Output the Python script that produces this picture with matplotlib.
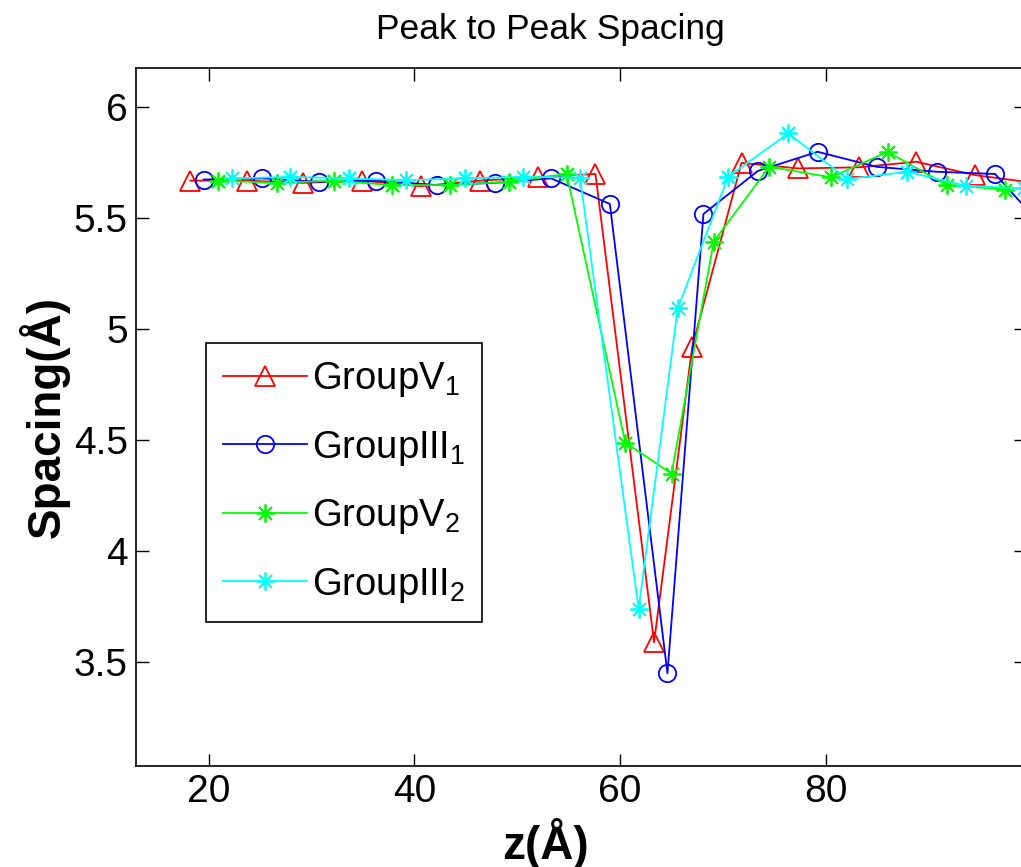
import matplotlib
matplotlib.use("Agg")
import matplotlib.pyplot as plt
from matplotlib.ticker import FuncFormatter

plt.rcParams["font.family"] = ["Liberation Sans", "DejaVu Sans"]
plt.rcParams["mathtext.fontset"] = "custom"
plt.rcParams["mathtext.rm"] = "Liberation Sans"
plt.rcParams["mathtext.default"] = "regular"

# peak positions (Å) and spacing to the next peak (Å)
v1_z = [18.2, 23.7, 29.2, 34.9, 40.6, 46.4, 52.0, 57.6, 63.3, 67.0, 71.8, 77.3, 83.2, 88.8, 94.5, 100.2]
v1_s = [5.67, 5.67, 5.66, 5.67, 5.645, 5.67, 5.685, 5.70, 3.59, 4.92, 5.75, 5.725, 5.73, 5.755, 5.695, 5.66]

iii1_z = [19.5, 25.2, 30.7, 36.3, 42.2, 47.8, 53.3, 59.0, 64.6, 68.1, 73.4, 79.2, 84.95, 90.8, 96.45, 102.1]
iii1_s = [5.675, 5.68, 5.665, 5.67, 5.65, 5.66, 5.68, 5.565, 3.45, 5.52, 5.714, 5.80, 5.732, 5.71, 5.70, 5.41]

v2_z = [20.9, 26.6, 32.2, 37.8, 43.5, 49.2, 54.8, 60.5, 65.0, 69.1, 74.5, 80.5, 86.0, 91.75, 97.4]
v2_s = [5.67, 5.66, 5.67, 5.65, 5.65, 5.665, 5.70, 4.49, 4.35, 5.395, 5.733, 5.685, 5.80, 5.65, 5.63]

iii2_z = [22.3, 27.95, 33.6, 39.2, 44.9, 50.6, 56.1, 61.8, 65.6, 70.5, 76.35, 82.1, 87.9, 93.6, 99.3]
iii2_s = [5.68, 5.687, 5.68, 5.672, 5.68, 5.687, 5.684, 3.74, 5.095, 5.687, 5.883, 5.677, 5.71, 5.647, 5.635]

x_ticks = [20, 40, 60, 80]
y_ticks = [3.5, 4, 4.5, 5, 5.5, 6]

fig = plt.figure(figsize=(10.21, 8.67), dpi=100)
ax = fig.add_axes([0.1332, 0.1168, 0.8721, 0.8044])

asterisk = (8, 2, 0)
ax.plot(v1_z, v1_s, color="#ff0000", lw=1.3, marker="^", ms=14, mfc="none", mew=1.3, label="GroupV$_1$")
ax.plot(iii1_z, iii1_s, color="#0000ff", lw=1.3, marker="o", ms=12.5, mfc="none", mew=1.3, label="GroupIII$_1$")
ax.plot(v2_z, v2_s, color="#00ff00", lw=1.3, marker=asterisk, ms=13, mew=1.3, label="GroupV$_2$")
ax.plot(iii2_z, iii2_s, color="#00ffff", lw=1.3, marker=asterisk, ms=13, mew=1.3, label="GroupIII$_2$")

ax.set_xlim(12.93, 99.5)
ax.set_ylim(3.034, 6.176)
ax.set_xticks(x_ticks)
ax.set_yticks(y_ticks)
ax.yaxis.set_major_formatter(FuncFormatter(lambda v, p: f"{v:g}"))
ax.tick_params(direction="in", length=9, width=1, top=True, right=True, labelsize=28)
ax.tick_params(axis="x", pad=6)
ax.tick_params(axis="y", pad=6)
for s in ax.spines.values():
    s.set_linewidth(1.2)

# title and x label sit left of the axes centre in the original
fig.text(550 / 1021, 1 - 30 / 867, "Peak to Peak Spacing", fontsize=25.5, ha="center", va="center")
ax.set_xlabel("z(Å)", fontsize=33, fontweight="bold", labelpad=2)
ax.xaxis.set_label_coords((545 - 136) / 890.4, -0.075)
ax.set_ylabel("Spacing(Å)", fontsize=33, fontweight="bold", labelpad=6)
ax.yaxis.set_label_coords(-0.074, 0.5)

leg = ax.legend(loc="upper left", bbox_to_anchor=(0.0786, 0.606), borderaxespad=0,
                fontsize=27.5, fancybox=False, framealpha=1, edgecolor="black",
                handlelength=2.2, labelspacing=0.77, borderpad=0.45, handletextpad=0.12)
leg.get_frame().set_linewidth(1.2)

fig.savefig("out.png", dpi=100)
